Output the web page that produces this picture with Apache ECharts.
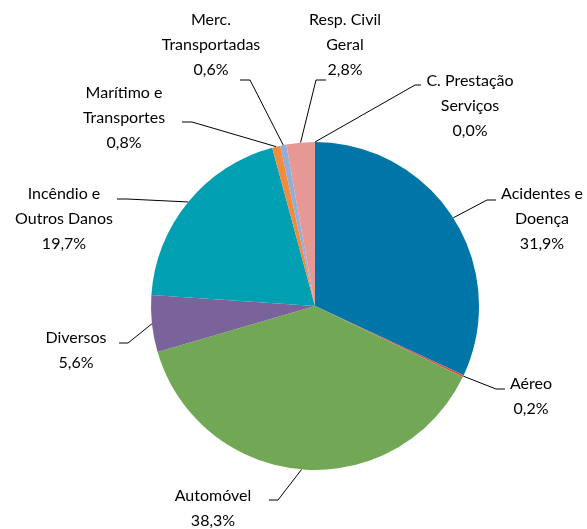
<!DOCTYPE html>
<html>
<head>
<meta charset="utf-8">
<script src="https://cdn.jsdelivr.net/npm/echarts@6/dist/echarts.min.js"></script>
<style>
  html, body { margin: 0; padding: 0; background: #ffffff; }
  #chart { width: 587px; height: 529px; }
</style>
</head>
<body>
<div id="chart"></div>
<script>
// Branches of insurance (share of premiums, %)
const categories = [
  'Acidentes e\nDoença',
  'Aéreo',
  'Automóvel',
  'Diversos',
  'Incêndio e\nOutros Danos',
  'Marítimo e\nTransportes',
  'Merc.\nTransportadas',
  'Resp. Civil\nGeral',
  'C. Prestação\nServiços'
];
const shares = [31.9, 0.2, 38.3, 5.6, 19.7, 0.8, 0.6, 2.8, 0.0];
const colors = ['#0076A8', '#D0504E', '#72A855', '#7A629A', '#009FB1', '#F38B3F', '#8FAEDA', '#E69894', '#4F81BD'];

// Where each label block sits (centre) and where its leader line bends / ends.
const labelPlacement = [
  { x: 542, y: 219, bend: [487, 200], end: [496, 200] },
  { x: 531, y: 396, bend: [496, 389], end: [505, 389] },
  { x: 213, y: 508, bend: [278, 500], end: [269, 500] },
  { x: 76,  y: 350, bend: [128, 343], end: [119, 343] },
  { x: 64,  y: 219, bend: [127, 199], end: [117, 199] },
  { x: 124, y: 118, bend: [192, 122], end: [182, 122] },
  { x: 211, y: 45,  bend: [250, 80],  end: [240, 80] },
  { x: 345, y: 45,  bend: [316, 80],  end: [326, 80] },
  { x: 470, y: 106, bend: [415, 85],  end: [421, 85] }
];

const fmt = v => v.toFixed(1).replace('.', ',') + '%';

const chart = echarts.init(document.getElementById('chart'), null, { renderer: 'canvas' });
chart.setOption({
  animation: false,
  backgroundColor: '#ffffff',
  series: [{
    type: 'pie',
    center: [315, 306],
    radius: [0, 164],
    startAngle: 90,
    clockwise: true,
    avoidLabelOverlap: false,
    minShowLabelAngle: 0,
    stillShowZeroSum: true,
    itemStyle: { borderWidth: 0 },
    data: categories.map((name, i) => ({
      name: name,
      value: shares[i],
      itemStyle: { color: colors[i] }
    })),
    label: {
      show: true,
      position: 'outside',
      formatter: p => p.name + '\n' + fmt(p.value),
      fontFamily: 'Lato',
      fontSize: 16,
      lineHeight: 25,
      color: '#000000',
      align: 'center'
    },
    labelLine: {
      show: true,
      length: 10,
      length2: 10,
      lineStyle: { color: '#000000', width: 1 }
    },
    labelLayout: function (params) {
      const pl = labelPlacement[params.dataIndex];
      const start = params.labelLinePoints ? params.labelLinePoints[0] : pl.bend;
      return {
        x: pl.x,
        y: pl.y,
        align: 'center',
        verticalAlign: 'middle',
        labelLinePoints: [start, pl.bend, pl.end]
      };
    }
  }]
});
</script>
</body>
</html>
